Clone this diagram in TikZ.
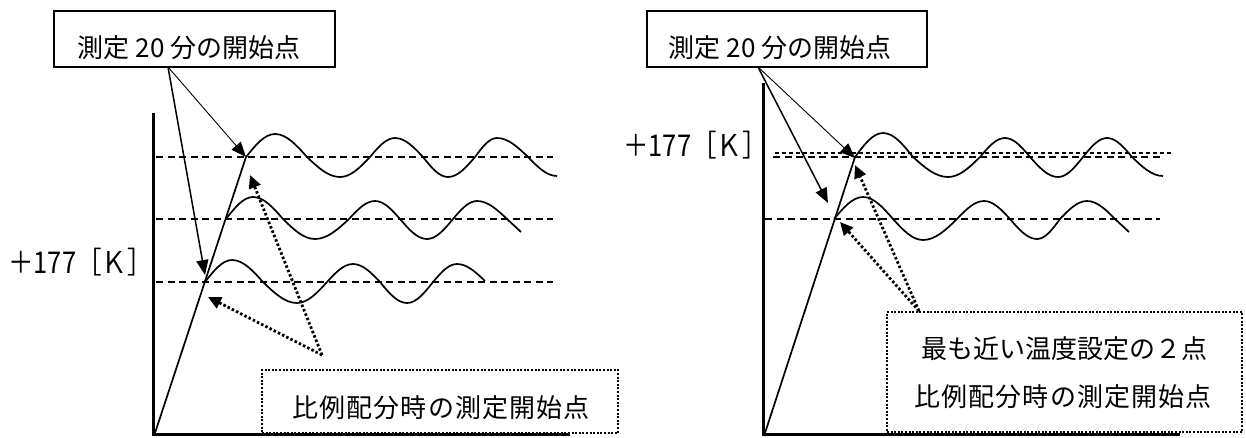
\documentclass[tikz,border=0pt]{standalone}
\usepackage{graphicx}
\usepackage{fontspec}
\setmainfont{Noto Sans CJK JP}
\usetikzlibrary{arrows.meta}
\newcommand{\klabel}{\scalebox{0.85}[1]{＋177［Ｋ］}}
\begin{document}
\begin{tikzpicture}[x=1pt,y=-1pt,
  axis/.style={line width=3pt},
  curve/.style={line width=1.7pt},
  dashline/.style={line width=1.8pt, dash pattern=on 7pt off 4.5pt},
  finedash/.style={line width=1.2pt, dash pattern=on 4pt off 3pt},
  boxstyle/.style={draw, line width=1.4pt, inner sep=0pt},
  dotbox/.style={draw, line width=2.2pt, dash pattern=on 2pt off 1.6pt, inner sep=0pt},
  thinarrow/.style={line width=0.9pt, -{Triangle[length=15pt,width=12pt]}},
  thickarrow/.style={line width=1.5pt, -{Triangle[length=15pt,width=12pt]}},
  dotarrow/.style={line width=2.8pt, dash pattern=on 2.5pt off 2.2pt, -{Triangle[length=13pt,width=12pt]}},
  lbl/.style={inner sep=0pt, font=\fontsize{26}{30}\selectfont},
  klbl/.style={inner sep=0pt, anchor=west, font=\fontsize{30}{34}\selectfont},
  spaced/.style={inner sep=0pt, font=\fontsize{26}{30}\selectfont\addfontfeature{LetterSpace=4.6}},
]
\useasboundingbox (0,0) rectangle (1246,437);

% ---------------- left panel ----------------
\node[dotbox, minimum width=356pt, minimum height=63pt] (dbL) at (440,401.5) {};
\node[spaced] (dtL) at (441,408) {比例配分時の測定開始点};

\node[boxstyle, minimum width=281pt, minimum height=56pt] (boxL) at (194.5,39) {};
\node[lbl] (tL) at (189,48) {測定 20 分の開始点};
\coordinate (oL) at (168,67);

\node[klbl] (kL) at (8,262) {\klabel};

\draw[dashline] (156,157) -- (553,157);
\draw[dashline] (156,219) -- (553,219);
\draw[dashline] (156,282) -- (553,282);

\draw[curve] (155,433) -- (246,157);

\draw[curve] (246,157) sin (275,134) cos (307,157) sin (340,177) cos (370,157)
  sin (395,138) cos (423,157) sin (448,177) cos (475,157) sin (497,138)
  cos (528,157) sin (557,176);
\draw[curve] (226,219) sin (253,197) cos (283,219) sin (315,239) cos (349,219)
  sin (375,201) cos (400,219) sin (427,239) cos (453,219) sin (477,201)
  cos (507,219) -- (521,232);
\draw[curve] (205,282) sin (232,260) cos (263,282) sin (297,303) cos (327,282)
  sin (353,264) cos (380,282) sin (407,303) cos (433,282) sin (457,264)
  cos (485,281);

\draw[axis] (153,113) -- (153,434) -- (570,434);

\coordinate (aL1) at (246,157);
\coordinate (aL2) at (205,275);
\draw[thinarrow] (oL) -- (aL1);
\draw[thickarrow] (oL) -- (aL2);

\coordinate (dsL) at (322,355);
\coordinate (dL1) at (250,175);
\coordinate (dL2) at (208,297);
\draw[dotarrow] (dsL) -- (dL1);
\draw[dotarrow] (dsL) -- (dL2);

% ---------------- right panel ----------------
\node[dotbox, minimum width=355pt, minimum height=120pt] (dbR) at (1064.5,372) {};
\node[lbl] (dtR1) at (1064,349) {最も近い温度設定の２点};
\node[spaced] (dtR2) at (1063,397) {比例配分時の測定開始点};

\node[boxstyle, minimum width=280pt, minimum height=56pt] (boxR) at (787,39) {};
\node[lbl] (tR) at (780,48) {測定 20 分の開始点};
\coordinate (oR) at (758,67);

\node[klbl] (kR) at (623,145) {\klabel};

\draw[finedash] (775,153) -- (1172,153);
\draw[dashline] (773,157) -- (1160,157);
\draw[dashline] (765,219) -- (1160,219);

\draw[curve] (765,433) -- (855,157);

\draw[curve] (855,157) sin (883,133) cos (913,157) sin (948,177) cos (980,157)
  sin (1005,138) cos (1030,157) sin (1058,177) cos (1083,157) sin (1107,138)
  cos (1132,157) sin (1163,176);
\draw[curve] (834,219) sin (863,197) cos (893,219) sin (923,240) cos (957,219)
  sin (984,201) cos (1010,219) sin (1037,239) cos (1060,219) sin (1087,201)
  cos (1115,219) -- (1129,232);

\draw[axis] (763,83) -- (763,434) -- (1180,434);

\coordinate (aR1) at (855,158);
\coordinate (aR2) at (828,203);
\draw[thinarrow] (oR) -- (aR1);
\draw[thickarrow] (oR) -- (aR2);

\coordinate (dsR) at (919,311);
\coordinate (dR1) at (855,165);
\coordinate (dR2) at (840,222);
\draw[dotarrow] (dsR) -- (dR1);
\draw[dotarrow] (dsR) -- (dR2);
\end{tikzpicture}
\end{document}
